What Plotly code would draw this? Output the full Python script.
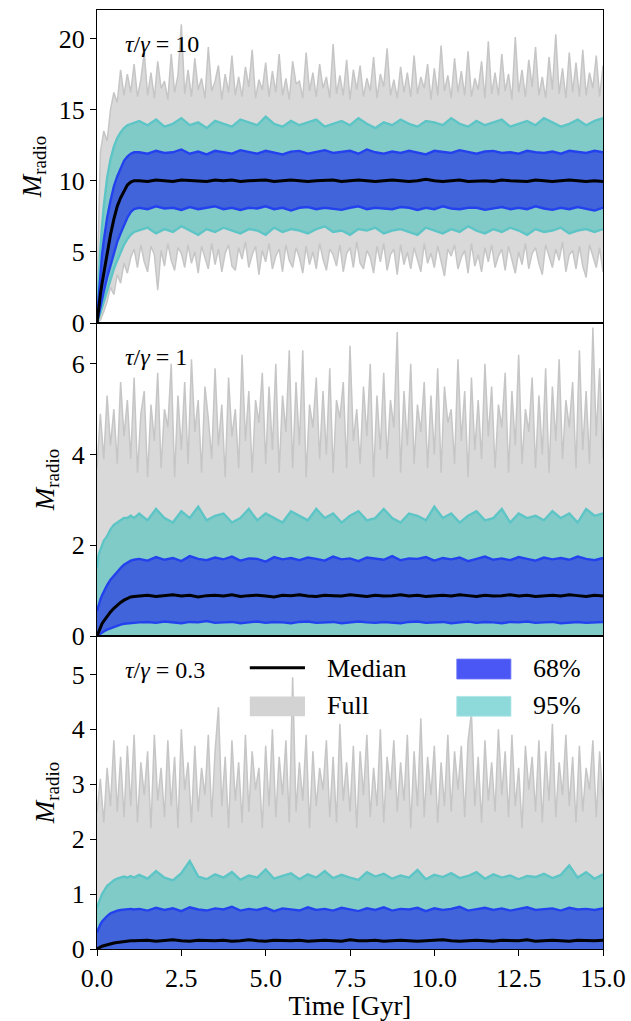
import plotly.graph_objects as go
from plotly.subplots import make_subplots

# ---------------- data ----------------
T_FULL = [
    0.0, 0.1, 0.2, 0.3, 0.4, 0.5, 0.6, 0.7, 0.8, 0.9,
    1.0, 1.1, 1.2, 1.3, 1.4, 1.5, 1.6, 1.7, 1.8, 1.9,
    2.0, 2.1, 2.2, 2.3, 2.4, 2.5, 2.6, 2.7, 2.8, 2.9,
    3.0, 3.1, 3.2, 3.3, 3.4, 3.5, 3.6, 3.7, 3.8, 3.9,
    4.0, 4.1, 4.2, 4.3, 4.4, 4.5, 4.6, 4.7, 4.8, 4.9,
    5.0, 5.1, 5.2, 5.3, 5.4, 5.5, 5.6, 5.7, 5.8, 5.9,
    6.0, 6.1, 6.2, 6.3, 6.4, 6.5, 6.6, 6.7, 6.8, 6.9,
    7.0, 7.1, 7.2, 7.3, 7.4, 7.5, 7.6, 7.7, 7.8, 7.9,
    8.0, 8.1, 8.2, 8.3, 8.4, 8.5, 8.6, 8.7, 8.8, 8.9,
    9.0, 9.1, 9.2, 9.3, 9.4, 9.5, 9.6, 9.7, 9.8, 9.9,
    10.0, 10.1, 10.2, 10.3, 10.4, 10.5, 10.6, 10.7, 10.8, 10.9,
    11.0, 11.1, 11.2, 11.3, 11.4, 11.5, 11.6, 11.7, 11.8, 11.9,
    12.0, 12.1, 12.2, 12.3, 12.4, 12.5, 12.6, 12.7, 12.8, 12.9,
    13.0, 13.1, 13.2, 13.3, 13.4, 13.5, 13.6, 13.7, 13.8, 13.9,
    14.0, 14.1, 14.2, 14.3, 14.4, 14.5, 14.6, 14.7, 14.8, 14.9,
    15.0,
]

T_BAND = [
    0.0, 0.05, 0.1, 0.15, 0.2, 0.3, 0.4, 0.5, 0.6, 0.7, 0.8, 0.9, 1.0, 1.1,
    1.25, 1.5, 1.75, 2.0, 2.25, 2.5, 2.75, 3.0, 3.25, 3.5,
    3.75, 4.0, 4.25, 4.5, 4.75, 5.0, 5.25, 5.5, 5.75, 6.0,
    6.25, 6.5, 6.75, 7.0, 7.25, 7.5, 7.75, 8.0, 8.25, 8.5,
    8.75, 9.0, 9.25, 9.5, 9.75, 10.0, 10.25, 10.5, 10.75, 11.0,
    11.25, 11.5, 11.75, 12.0, 12.25, 12.5, 12.75, 13.0, 13.25, 13.5,
    13.75, 14.0, 14.25, 14.5, 14.75, 15.0,
]

# ---- panel 1 : tau/gamma = 10 ----
P1_FULL_HI = [
    2.0, 12.0, 13.5, 12.8, 15.0, 16.2, 15.5, 17.8, 16.0, 17.5, 16.2,
    18.2, 15.9, 17.1, 19.0, 16.0, 17.6, 15.8, 18.4, 16.5, 17.0,
    15.7, 18.9, 16.2, 17.4, 21.0, 16.1, 17.8, 15.9, 18.6, 16.4,
    17.2, 15.8, 19.4, 16.3, 17.0, 18.1, 15.7, 17.5, 16.2, 18.8,
    16.0, 17.3, 15.9, 18.0, 16.6, 19.2, 15.8, 17.1, 16.4, 18.3,
    15.9, 17.7, 16.2, 18.9, 16.0, 17.2, 15.7, 18.4, 16.8, 17.0,
    15.8, 19.0, 16.3, 17.6, 15.9, 18.2, 16.5, 17.3, 15.8, 19.6,
    16.1, 17.4, 16.0, 18.5, 15.7, 17.8, 16.4, 18.1, 15.9, 17.2,
    16.3, 18.7, 15.8, 17.5, 16.6, 19.3, 16.0, 17.1, 15.8, 18.0,
    16.2, 17.6, 15.9, 18.8, 16.1, 17.3, 16.5, 18.2, 15.7, 17.9,
    16.0, 19.5, 16.3, 17.4, 15.8, 18.6, 16.2, 17.7, 16.0, 19.1,
    15.9, 17.2, 16.4, 18.4, 15.8, 19.8, 16.1, 17.6, 16.0, 18.9,
    16.3, 17.5, 15.7, 20.1, 16.2, 17.8, 15.9, 18.5, 16.6, 19.4,
    16.0, 17.3, 15.8, 18.7, 16.4, 20.3, 16.1, 17.9, 15.8, 19.0,
    16.2, 18.3, 15.9, 19.2, 16.0, 17.6, 16.5, 18.8, 15.9, 18.1,
]
P1_FULL_LO = [
    0.0, 0.2, 0.8, 1.5, 2.5, 2.0, 3.4, 2.8, 4.2, 3.5, 4.6,
    5.2, 3.9, 5.5, 4.3, 3.6, 5.4, 4.8, 2.3, 5.1, 4.0,
    5.6, 4.4, 3.7, 5.3, 4.9, 3.9, 5.5, 4.2, 5.0, 3.5,
    5.4, 4.6, 3.8, 5.6, 4.1, 5.2, 3.6, 4.9, 5.5, 4.0,
    3.7, 5.3, 4.5, 5.7, 3.9, 4.8, 5.4, 3.4, 5.1, 4.3,
    5.6, 3.8, 4.7, 5.2, 3.6, 5.5, 4.4, 3.9, 5.3, 4.6,
    3.5, 5.4, 4.1, 5.0, 3.8, 5.6, 4.5, 3.7, 5.2, 4.8,
    4.0, 5.5, 3.6, 4.9, 5.3, 3.9, 5.7, 4.2, 3.8, 5.1,
    4.6, 3.5, 5.4, 4.3, 5.6, 3.7, 4.8, 5.2, 3.4, 5.5,
    4.1, 5.0, 3.8, 5.3, 4.5, 3.6, 5.6, 4.2, 4.9, 3.9,
    5.4, 4.4, 3.3, 5.2, 4.7, 5.5, 3.8, 4.6, 5.1, 3.5,
    5.6, 4.0, 4.8, 3.6, 5.3, 4.3, 5.5, 3.9, 4.7, 5.2,
    3.7, 5.4, 4.5, 3.5, 5.0, 4.1, 5.6, 3.8, 4.9, 5.3,
    4.2, 3.4, 5.5, 4.6, 3.9, 5.2, 4.4, 5.7, 3.6, 4.8,
    5.1, 3.8, 5.4, 4.0, 3.2, 5.5, 4.7, 3.9, 5.3, 3.6,
]
P1_95_HI = [
    0.5, 3.0, 5.2, 6.8, 8.2, 10.2, 11.5, 12.4, 13.0, 13.4, 13.7, 13.9, 14.0, 14.1,
    14.2, 13.9, 14.3, 13.8, 14.0, 14.4, 13.9, 14.1, 13.7, 14.2,
    14.0, 13.8, 14.3, 14.1, 13.9, 14.5, 14.0, 13.8, 14.2, 13.9,
    14.1, 14.3, 13.8, 14.0, 14.2, 13.9, 14.4, 14.0, 13.7, 14.1,
    13.9, 14.3, 14.0, 13.8, 14.2, 14.1, 13.9, 14.4, 14.0, 13.8,
    14.2, 13.9, 14.1, 14.3, 13.8, 14.0, 14.2, 13.9, 14.4, 14.1,
    13.8, 14.0, 14.3, 13.9, 14.2, 14.4,
]
P1_95_LO = [
    0.0, 0.3, 0.7, 1.1, 1.5, 2.3, 3.1, 3.8, 4.4, 5.0, 5.5, 5.9, 6.2, 6.4,
    6.5, 6.7, 6.3, 6.6, 6.4, 6.8, 6.5, 6.2, 6.6, 6.4,
    6.7, 6.5, 6.3, 6.6, 6.5, 6.2, 6.7, 6.4, 6.6, 6.5,
    6.3, 6.6, 6.8, 6.4, 6.5, 6.2, 6.6, 6.5, 6.7, 6.3,
    6.5, 6.6, 6.4, 6.2, 6.7, 6.5, 6.3, 6.6, 6.4, 6.8,
    6.5, 6.3, 6.6, 6.4, 6.7, 6.5, 6.2, 6.6, 6.4, 6.5,
    6.7, 6.3, 6.5, 6.6, 6.4, 6.6,
]
P1_68_HI = [
    0.3, 2.0, 3.6, 4.8, 5.8, 7.4, 8.6, 9.6, 10.3, 10.9, 11.4, 11.7, 11.9, 12.0,
    12.0, 11.9, 12.1, 11.95, 12.0, 12.2, 11.9, 12.05, 11.85, 12.1,
    12.0, 11.9, 12.15, 12.0, 11.9, 12.1, 12.0, 11.85, 12.05, 12.1,
    11.9, 12.0, 12.15, 11.95, 12.0, 12.1, 11.9, 12.2, 12.0, 11.9,
    12.05, 11.95, 12.1, 12.0, 11.85, 12.1, 12.0, 11.95, 12.15, 12.0,
    11.9, 12.05, 12.1, 11.95, 12.0, 11.9, 12.1, 12.0, 11.95, 12.05,
    11.9, 12.1, 12.0, 11.95, 12.1, 12.0,
]
P1_68_LO = [
    0.0, 0.6, 1.2, 1.7, 2.2, 3.2, 4.1, 4.9, 5.7, 6.3, 6.9, 7.4, 7.8, 8.0,
    8.1, 8.0, 8.2, 8.05, 8.1, 7.95, 8.15, 8.0, 8.1, 8.2,
    8.0, 8.1, 7.95, 8.1, 8.05, 8.2, 8.0, 8.1, 7.9, 8.1,
    8.15, 8.0, 8.1, 8.05, 7.95, 8.1, 8.2, 8.0, 8.1, 8.05,
    8.0, 8.15, 8.1, 7.95, 8.1, 8.0, 8.2, 8.05, 8.0, 8.1,
    8.1, 7.95, 8.05, 8.15, 8.0, 8.1, 8.0, 8.2, 8.05, 7.95,
    8.1, 8.0, 8.15, 8.05, 7.9, 8.1,
]
P1_MED = [
    0.0, 1.1, 2.0, 2.8, 3.5, 4.9, 6.2, 7.3, 8.2, 8.8, 9.3, 9.7, 9.9, 10.0,
    10.0, 9.95, 10.05, 10.0, 9.95, 10.05, 10.0, 10.0, 9.95, 10.05,
    10.0, 10.05, 9.95, 10.0, 10.0, 10.05, 9.95, 10.0, 10.05, 10.0,
    9.95, 10.0, 10.0, 10.05, 9.95, 10.0, 10.05, 10.0, 9.95, 10.0,
    10.05, 10.0, 9.95, 10.0, 10.1, 10.0, 9.95, 10.0, 10.05, 9.95,
    10.0, 10.0, 9.95, 10.05, 10.0, 10.0, 9.95, 10.05, 10.0, 9.95,
    10.0, 10.05, 10.0, 9.95, 10.0, 9.95,
]

# ---- panel 2 : tau/gamma = 1 ----
P2_FULL_HI = [
    3.7, 4.9, 3.9, 5.3, 4.2, 5.0, 3.8, 5.6, 4.4, 5.2, 3.9,
    5.7, 3.6, 4.9, 5.4, 3.5, 5.1, 4.3, 5.8, 3.7, 5.0,
    4.6, 6.0, 3.5, 5.3, 4.1, 5.6, 3.8, 6.1, 4.5, 5.2,
    3.6, 5.5, 4.8, 3.9, 5.9, 4.2, 5.1, 3.5, 5.7, 4.4,
    5.0, 3.7, 6.2, 4.3, 5.4, 3.6, 5.2, 4.7, 5.8, 3.8,
    5.5, 4.1, 6.0, 3.6, 5.3, 4.5, 6.3, 3.7, 5.6, 4.2,
    6.3, 3.5, 5.1, 4.6, 5.7, 3.9, 5.4, 4.0, 5.9, 3.6,
    5.2, 4.8, 5.6, 3.7, 6.4, 4.3, 5.0, 3.8, 5.5, 4.4,
    6.0, 3.5, 5.3, 4.1, 5.8, 3.9, 5.2, 4.6, 6.7, 3.6,
    5.4, 4.2, 6.0, 3.8, 5.1, 4.5, 5.6, 3.7, 5.3, 4.0,
    5.9, 3.6, 5.5, 4.7, 5.0, 3.8, 6.1, 4.3, 5.4, 3.5,
    5.7, 4.1, 5.2, 3.9, 6.0, 4.4, 5.5, 3.7, 5.1, 4.6,
    5.8, 3.6, 5.4, 4.2, 6.2, 3.8, 5.0, 4.5, 5.7, 3.7,
    5.3, 4.0, 5.9, 3.6, 5.5, 4.3, 6.1, 3.9, 5.2, 4.6,
    5.6, 3.7, 6.3, 4.1, 5.4, 3.8, 6.8, 4.4, 5.9, 3.9,
]
P2_95_HI = [
    1.5, 1.8, 1.9, 2.0, 2.1, 2.2, 2.35, 2.45, 2.5, 2.55, 2.6, 2.6, 2.65, 2.6,
    2.7, 2.55, 2.8, 2.6, 2.5, 2.75, 2.6, 2.85, 2.55, 2.65,
    2.7, 2.5, 2.6, 2.8, 2.55, 2.7, 2.6, 2.5, 2.75, 2.65,
    2.55, 2.8, 2.6, 2.7, 2.5, 2.65, 2.75, 2.55, 2.6, 2.8,
    2.6, 2.5, 2.7, 2.65, 2.55, 2.85, 2.6, 2.7, 2.5, 2.65,
    2.75, 2.55, 2.6, 2.8, 2.5, 2.7, 2.6, 2.65, 2.55, 2.75,
    2.6, 2.7, 2.5, 2.8, 2.65, 2.7,
]
P2_68_HI = [
    0.55, 0.7, 0.8, 0.9, 0.98, 1.12, 1.24, 1.33, 1.42, 1.5, 1.57, 1.62, 1.66, 1.68,
    1.7, 1.66, 1.74, 1.68, 1.72, 1.65, 1.76, 1.7, 1.67, 1.73,
    1.69, 1.75, 1.66, 1.71, 1.7, 1.64, 1.74, 1.69, 1.72, 1.67,
    1.73, 1.7, 1.66, 1.75, 1.69, 1.71, 1.65, 1.73, 1.7, 1.68,
    1.76, 1.67, 1.71, 1.7, 1.74, 1.66, 1.72, 1.69, 1.73, 1.65,
    1.7, 1.75, 1.68, 1.71, 1.67, 1.74, 1.7, 1.66, 1.73, 1.69,
    1.72, 1.68, 1.75, 1.7, 1.67, 1.72,
]
P2_68_LO = [
    0.0, 0.03, 0.06, 0.08, 0.1, 0.14, 0.17, 0.2, 0.23, 0.25, 0.27, 0.28, 0.29, 0.3,
    0.3, 0.31, 0.29, 0.32, 0.3, 0.28, 0.31, 0.3, 0.33, 0.29,
    0.3, 0.31, 0.28, 0.3, 0.32, 0.29, 0.31, 0.3, 0.28, 0.31,
    0.32, 0.29, 0.3, 0.31, 0.28, 0.3, 0.32, 0.3, 0.29, 0.31,
    0.3, 0.28, 0.31, 0.32, 0.29, 0.3, 0.31, 0.28, 0.3, 0.32,
    0.29, 0.31, 0.3, 0.28, 0.31, 0.3, 0.32, 0.29, 0.3, 0.31,
    0.28, 0.3, 0.31, 0.29, 0.3, 0.31,
]
P2_MED = [
    0.0, 0.1, 0.2, 0.27, 0.33, 0.44, 0.53, 0.61, 0.68, 0.74, 0.79, 0.83, 0.86, 0.87,
    0.88, 0.9, 0.87, 0.89, 0.91, 0.88, 0.9, 0.86, 0.89, 0.9,
    0.88, 0.91, 0.87, 0.89, 0.9, 0.88, 0.86, 0.9, 0.89, 0.91,
    0.88, 0.87, 0.9, 0.89, 0.88, 0.91, 0.89, 0.87, 0.9, 0.88,
    0.89, 0.91, 0.88, 0.9, 0.87, 0.89, 0.9, 0.88, 0.91, 0.89,
    0.87, 0.9, 0.88, 0.89, 0.91, 0.88, 0.9, 0.87, 0.89, 0.9,
    0.88, 0.91, 0.89, 0.87, 0.9, 0.88,
]

# ---- panel 3 : tau/gamma = 0.3 ----
P3_FULL_HI = [
    2.5, 3.1, 2.3, 3.3, 2.6, 3.8, 2.5, 3.5, 2.4, 3.7, 2.6,
    3.9, 2.3, 3.4, 2.8, 3.6, 2.2, 3.9, 2.7, 3.3, 2.4,
    3.8, 2.6, 3.5, 2.2, 4.0, 2.9, 3.4, 2.3, 3.7, 2.5,
    3.3, 2.8, 3.9, 2.4, 3.6, 4.4, 2.6, 3.5, 2.2, 3.8,
    2.7, 3.4, 2.3, 3.9, 2.5, 3.6, 2.9, 3.3, 2.2, 3.7,
    2.6, 4.0, 2.4, 3.5, 2.8, 3.8, 2.3, 4.95, 2.5, 3.4,
    2.7, 3.9, 2.2, 3.6, 2.6, 3.3, 2.9, 3.8, 2.4, 3.5,
    2.3, 4.1, 2.7, 3.4, 2.5, 3.7, 2.2, 3.6, 2.8, 3.9,
    2.4, 3.3, 2.6, 4.0, 2.3, 3.5, 2.9, 3.8, 2.5, 3.4,
    2.7, 3.9, 2.2, 3.6, 2.6, 4.2, 2.4, 3.5, 2.8, 3.7,
    2.3, 3.4, 2.6, 3.9, 2.5, 3.6, 2.9, 3.7, 2.4, 3.8,
    4.3, 2.6, 3.5, 2.3, 3.8, 2.7, 3.4, 2.5, 4.0, 2.8,
    3.6, 2.4, 3.9, 2.6, 3.3, 2.2, 3.7, 2.9, 3.5, 2.5,
    3.8, 2.3, 3.6, 2.7, 4.1, 2.4, 3.4, 2.8, 3.9, 2.6,
    3.5, 2.3, 3.7, 2.5, 3.3, 2.9, 3.8, 2.4, 3.6, 2.7,
]
P3_95_HI = [
    0.75, 0.85, 0.92, 1.0, 1.05, 1.15, 1.2, 1.25, 1.28, 1.3, 1.32, 1.3, 1.33, 1.3,
    1.35, 1.28, 1.42, 1.3, 1.25, 1.38, 1.6, 1.32, 1.27, 1.36,
    1.3, 1.4, 1.26, 1.34, 1.3, 1.45, 1.28, 1.33, 1.38, 1.27,
    1.36, 1.3, 1.42, 1.29, 1.35, 1.3, 1.26, 1.4, 1.32, 1.37,
    1.28, 1.34, 1.3, 1.44, 1.27, 1.35, 1.31, 1.38, 1.29, 1.33,
    1.4, 1.28, 1.36, 1.3, 1.34, 1.27, 1.33, 1.31, 1.37, 1.29,
    1.35, 1.52, 1.3, 1.4, 1.28, 1.36,
]
P3_68_HI = [
    0.3, 0.38, 0.45, 0.5, 0.54, 0.6, 0.65, 0.68, 0.7, 0.71, 0.72, 0.72, 0.73, 0.72,
    0.73, 0.7, 0.75, 0.71, 0.74, 0.69, 0.76, 0.72, 0.7, 0.74,
    0.72, 0.77, 0.7, 0.73, 0.71, 0.75, 0.69, 0.74, 0.72, 0.7,
    0.76, 0.71, 0.73, 0.7, 0.75, 0.72, 0.69, 0.74, 0.71, 0.76,
    0.7, 0.73, 0.72, 0.75, 0.69, 0.74, 0.71, 0.73, 0.77, 0.7,
    0.72, 0.75, 0.71, 0.74, 0.7, 0.73, 0.76, 0.71, 0.72, 0.74,
    0.7, 0.75, 0.72, 0.73, 0.71, 0.74,
]
P3_MED = [
    0.0, 0.02, 0.035, 0.05, 0.06, 0.08, 0.1, 0.11, 0.12, 0.13, 0.14, 0.14, 0.15, 0.15,
    0.15, 0.16, 0.14, 0.15, 0.17, 0.15, 0.14, 0.16, 0.15, 0.15,
    0.16, 0.14, 0.15, 0.17, 0.15, 0.14, 0.16, 0.15, 0.15, 0.16,
    0.14, 0.15, 0.16, 0.15, 0.14, 0.17, 0.15, 0.15, 0.16, 0.14,
    0.15, 0.16, 0.15, 0.14, 0.15, 0.16, 0.17, 0.15, 0.14, 0.15,
    0.16, 0.15, 0.14, 0.16, 0.15, 0.15, 0.17, 0.14, 0.15, 0.16,
    0.15, 0.14, 0.16, 0.15, 0.15, 0.16,
]

PANEL_LABELS = ["<i>τ</i>/<i>γ</i> = 10", "<i>τ</i>/<i>γ</i> = 1", "<i>τ</i>/<i>γ</i> = 0.3"]
Y_RANGES = [[0, 22], [0, 6.9], [0, 5.7]]
Y_TICKS = [[0, 5, 10, 15, 20], [0, 2, 4, 6], [0, 1, 2, 3, 4, 5]]
X_TICKS = [0, 2.5, 5, 7.5, 10, 12.5, 15]
LEGEND_NAMES = ["Median", "Full", "68%", "95%"]

PANELS = [
    dict(full=(P1_FULL_HI, P1_FULL_LO), p95=(P1_95_HI, P1_95_LO), p68=(P1_68_HI, P1_68_LO), med=P1_MED),
    dict(full=(P2_FULL_HI, None), p95=(P2_95_HI, None), p68=(P2_68_HI, P2_68_LO), med=P2_MED),
    dict(full=(P3_FULL_HI, None), p95=(P3_95_HI, None), p68=(P3_68_HI, None), med=P3_MED),
]
for p in PANELS:
    for arr in p["full"]:
        if arr is not None:
            assert len(arr) == len(T_FULL), len(arr)
    for k in ("p95", "p68"):
        for arr in p[k]:
            if arr is not None:
                assert len(arr) == len(T_BAND), (k, len(arr))
    assert len(p["med"]) == len(T_BAND)

# ---------------- style ----------------
GRAY_FILL, GRAY_EDGE = "#d9d9d9", "#c6c6c6"
CYAN_FILL, CYAN_EDGE = "#80cbc8", "#5ec5c6"
BLUE_FILL, BLUE_EDGE = "#4264da", "#2342ee"
FONT = "Liberation Serif"

fig = make_subplots(rows=3, cols=1, shared_xaxes=True, vertical_spacing=0)


def add_band(row, t, hi, lo, fill, edge, ew):
    if lo is None:
        fig.add_trace(go.Scatter(x=t, y=hi, mode="lines", fill="tozeroy", fillcolor=fill,
                                 line=dict(width=0), hoverinfo="skip", showlegend=False), row=row, col=1)
    else:
        fig.add_trace(go.Scatter(x=t + t[::-1], y=hi + lo[::-1], mode="lines", fill="toself",
                                 fillcolor=fill, line=dict(width=0), hoverinfo="skip",
                                 showlegend=False), row=row, col=1)
    for arr in (hi, lo):
        if arr is not None:
            fig.add_trace(go.Scatter(x=t, y=arr, mode="lines", line=dict(color=edge, width=ew),
                                     hoverinfo="skip", showlegend=False), row=row, col=1)


for i, p in enumerate(PANELS):
    r = i + 1
    add_band(r, T_FULL, p["full"][0], p["full"][1], GRAY_FILL, GRAY_EDGE, 1.5)
    add_band(r, T_BAND, p["p95"][0], p["p95"][1], CYAN_FILL, CYAN_EDGE, 2.4)
    add_band(r, T_BAND, p["p68"][0], p["p68"][1], BLUE_FILL, BLUE_EDGE, 2.4)
    fig.add_trace(go.Scatter(x=T_BAND, y=p["med"], mode="lines", line=dict(color="black", width=3),
                             name="Median", showlegend=False), row=r, col=1)
    fig.update_yaxes(range=Y_RANGES[i], tickvals=Y_TICKS[i], row=r, col=1)

axis_common = dict(showline=True, mirror=True, linecolor="black", linewidth=1.2,
                   showgrid=False, zeroline=False, ticks="outside", ticklen=6, tickwidth=1.2,
                   tickcolor="black", automargin=False,
                   tickfont=dict(family=FONT, size=26, color="black"))
fig.update_yaxes(**axis_common,
                 title=dict(text="<i>M</i><sub>radio</sub>", font=dict(family=FONT, size=27, color="black"),
                            standoff=9))
fig.update_xaxes(**axis_common)
fig.update_xaxes(range=[0, 15], tickvals=X_TICKS)
fig.update_xaxes(ticks="", row=1, col=1)
fig.update_xaxes(ticks="", row=2, col=1)
fig.update_xaxes(tickformat=".1f", title=dict(text="Time [Gyr]", font=dict(family=FONT, size=27, color="black"),
                                              standoff=2), row=3, col=1)

# panel labels
LABEL_Y = [0.9638, 0.6308, 0.2971]
for lab, yy in zip(PANEL_LABELS, LABEL_Y):
    fig.add_annotation(x=0.051, y=yy, xref="paper", yref="paper", text=lab, showarrow=False,
                       xanchor="left", yanchor="middle", font=dict(family=FONT, size=24, color="black"))

# legend (drawn as shapes + text inside bottom panel)
fig.add_shape(type="line", xref="paper", yref="paper", x0=0.302, x1=0.411, y0=0.2996, y1=0.2996,
              line=dict(color="black", width=3))
fig.add_shape(type="rect", xref="paper", yref="paper", x0=0.302, x1=0.411, y0=0.248, y1=0.269,
              fillcolor="#d3d3d3", line=dict(width=0))
fig.add_shape(type="rect", xref="paper", yref="paper", x0=0.711, x1=0.818, y0=0.2875, y1=0.3088,
              fillcolor="#4b57f5", line=dict(color="#6f78f7", width=0.8))
fig.add_shape(type="rect", xref="paper", yref="paper", x0=0.711, x1=0.818, y0=0.248, y1=0.269,
              fillcolor="#8edadb", line=dict(color="#a7e3e4", width=0.8))
for name, xx, yy in zip(LEGEND_NAMES, [0.451, 0.451, 0.858, 0.858], [0.2990, 0.2590, 0.2990, 0.2590]):
    fig.add_annotation(x=xx, y=yy, xref="paper", yref="paper", text=name, showarrow=False,
                       xanchor="left", yanchor="middle", font=dict(family=FONT, size=26, color="black"))

fig.update_layout(width=631, height=1021, margin=dict(l=97, r=28, t=10, b=72),
                  plot_bgcolor="white", paper_bgcolor="white", showlegend=False)

# remove the page's default body margin so the 631x1021 figure fills the window exactly
fig.write_html("out.html", config={"displayModeBar": False},
               post_script="document.body.style.margin='0';document.body.style.overflow='hidden';")
